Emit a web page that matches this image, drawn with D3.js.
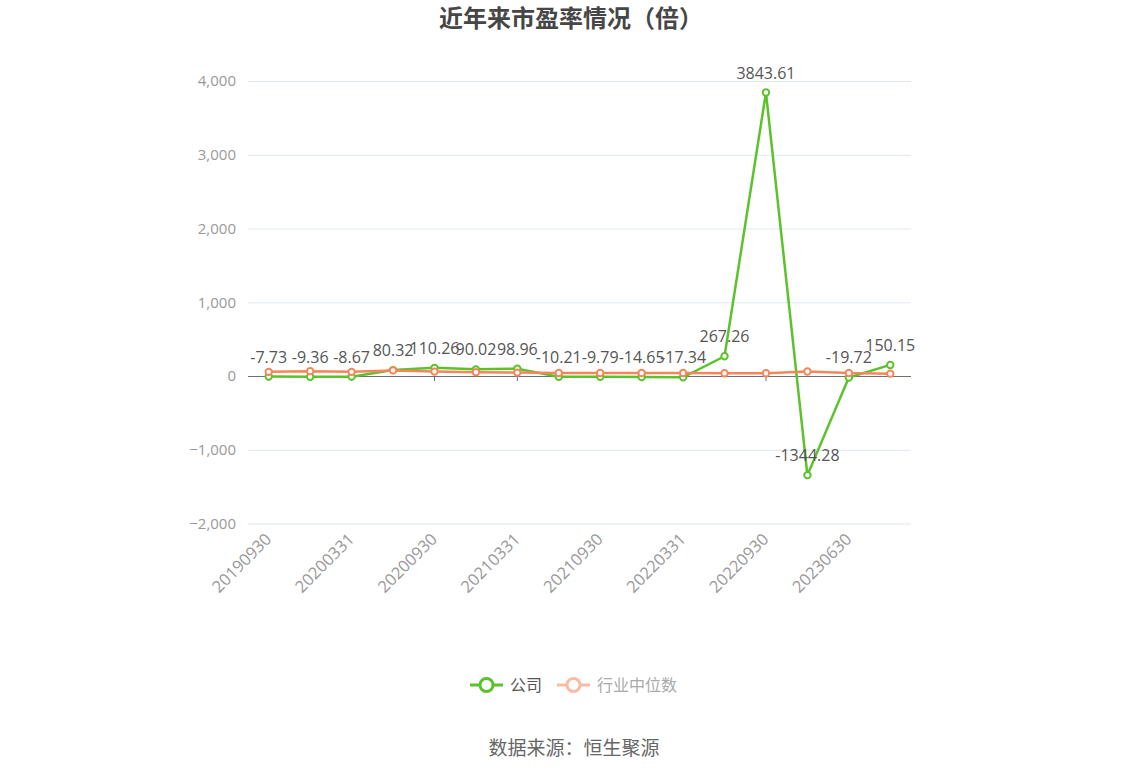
<!DOCTYPE html>
<html lang="zh">
<head>
  <meta charset="UTF-8">
  <title>近年来市盈率情况（倍）</title>
  <style>
    body { margin: 0; background: #fff; }
    text { font-family: "Noto Sans CJK SC", "Noto Sans", sans-serif; }
  </style>
</head>
<body>
  <svg width="1148" height="776"></svg>
  <script src="https://cdn.jsdelivr.net/npm/d3@7/dist/d3.min.js"></script>
  <script>
    var dates = ['20190930', '20191231', '20200331', '20200630', '20200930', '20201231',
      '20210331', '20210630', '20210930', '20211231', '20220331', '20220630',
      '20220930', '20230331', '20230630', '20230930']
    var company = [-7.73, -9.36, -8.67, 80.32, 110.26, 90.02, 98.96, -10.21, -9.79,
      -14.65, -17.34, 267.26, 3843.61, -1344.28, -19.72, 150.15]
    var industry = [56, 66, 56, 76, 60, 52, 46, 40, 40, 40, 40, 38, 38, 62, 40, 32]
    var yTicks = [-2000, -1000, 0, 1000, 2000, 3000, 4000]
    var shownDates = ['20190930', '20200331', '20200930', '20210331', '20210930',
      '20220331', '20220930', '20230630']

    var green = '#5cc22b'
    var orange = '#f5865a'

    var svg = d3.select('svg')
    var plotLeft = 248, plotRight = 911, plotTop = 81, plotBottom = 523.5

    var x = d3.scaleBand().domain(dates).range([plotLeft, plotRight])
    var y = d3.scaleLinear().domain([-2000, 4000]).range([plotBottom, plotTop])
    var cx = function(d) { return x(d) + x.bandwidth() / 2 }

    svg.append('text')
      .attr('x', 571).attr('y', 27)
      .attr('text-anchor', 'middle')
      .attr('font-size', '24px').attr('font-weight', 'bold')
      .attr('fill', '#464646')
      .text('近年来市盈率情况（倍）')

    // grid + y labels
    var yAxis = svg.append('g')
      .attr('transform', 'translate(' + plotLeft + ',0)')
      .call(d3.axisLeft(y).tickValues(yTicks).tickSize(-(plotRight - plotLeft)).tickPadding(12)
        .tickFormat(d3.format(',')))
    yAxis.select('.domain').remove()
    yAxis.selectAll('line').attr('stroke', '#e0e6f1')
    yAxis.selectAll('text').attr('fill', '#999').attr('font-size', '15px')
      .style('font-family', '"Open Sans", "Noto Sans", sans-serif')

    // x axis line at zero
    var xAxis = svg.append('g')
      .attr('transform', 'translate(0,' + y(0) + ')')
      .call(d3.axisBottom(x).tickValues(shownDates).tickSize(5).tickFormat(''))
    xAxis.select('.domain').attr('stroke', '#6e7079').attr('d', 'M' + plotLeft + ',0.5H' + plotRight)
    xAxis.selectAll('line').attr('stroke', '#6e7079')

    // x labels at the bottom
    svg.append('g').selectAll('text')
      .data(shownDates)
      .enter().append('text')
      .attr('transform', function(d) {
        return 'translate(' + (cx(d) - 5) + ',' + (plotBottom + 8) + ') rotate(-45)'
      })
      .attr('text-anchor', 'end')
      .attr('dy', '0.75em')
      .attr('fill', '#999').attr('font-size', '16.5px')
      .style('font-family', '"Open Sans", "Noto Sans", sans-serif')
      .text(function(d) { return d })

    var line = d3.line()
      .x(function(d, i) { return cx(dates[i]) })
      .y(function(d) { return y(d) })

    function drawSeries(vals, color) {
      svg.append('path').datum(vals)
        .attr('fill', 'none').attr('stroke', color).attr('stroke-width', 2.5)
        .attr('d', line)
      svg.append('g').selectAll('circle')
        .data(vals).enter().append('circle')
        .attr('cx', function(d, i) { return cx(dates[i]) })
        .attr('cy', function(d) { return y(d) })
        .attr('r', 3.2)
        .attr('fill', '#fff').attr('stroke', color).attr('stroke-width', 2)
    }

    drawSeries(company, green)
    drawSeries(industry, orange)

    svg.append('g').selectAll('text')
      .data(company).enter().append('text')
      .attr('x', function(d, i) { return cx(dates[i]) })
      .attr('y', function(d) { return y(d) - 14 })
      .attr('text-anchor', 'middle')
      .attr('fill', '#555').attr('font-size', '16px')
      .style('font-family', '"Open Sans", "Noto Sans", sans-serif')
      .text(function(d) { return d })

    // legend
    var legend = [
      { name: '公司', color: green, text: '#555', x: 470 },
      { name: '行业中位数', color: '#f9bba3', text: '#aaa', x: 557 }
    ]
    var lg = svg.append('g').selectAll('g').data(legend).enter().append('g')
      .attr('transform', function(d) { return 'translate(' + d.x + ',685)' })
    lg.append('line').attr('x1', 0).attr('x2', 33)
      .attr('stroke', function(d) { return d.color }).attr('stroke-width', 3)
    lg.append('circle').attr('cx', 16.5).attr('r', 6.5)
      .attr('fill', '#fff').attr('stroke', function(d) { return d.color }).attr('stroke-width', 3)
    lg.append('text').attr('x', 40).attr('dy', '0.35em')
      .attr('fill', function(d) { return d.text }).attr('font-size', '16px')
      .text(function(d) { return d.name })

    svg.append('text')
      .attr('x', 574).attr('y', 755)
      .attr('text-anchor', 'middle')
      .attr('fill', '#666').attr('font-size', '19px')
      .text('数据来源：恒生聚源')
  </script>
</body>
</html>
